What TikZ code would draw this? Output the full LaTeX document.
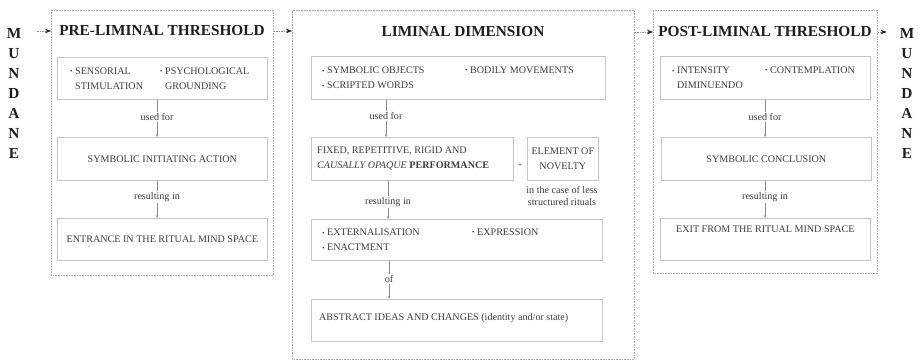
\documentclass[tikz,border=0pt]{standalone}
\usepackage{fontspec}
\setmainfont{Liberation Serif}
\usetikzlibrary{positioning,arrows.meta}

\definecolor{zonegray}{HTML}{A8A8A8}
\definecolor{boxgray}{HTML}{C4C4C4}
\definecolor{inkgray}{HTML}{3C3C3C}
\definecolor{inkdark}{HTML}{1E1E1E}
\definecolor{linkgray}{HTML}{8A8A8A}

\newcommand{\bul}{\raisebox{0.6pt}{\fontsize{7}{7}\selectfont\textbullet}}

\begin{document}
\begin{tikzpicture}[
    x=1pt, y=-1pt,
    font=\fontsize{10.1}{15}\selectfont,
    zone/.style={
        draw=zonegray,
        line width=0.6pt,
        dash pattern=on 0.8pt off 0.8pt,
        anchor=north west,
        inner sep=0pt
    },
    stepbox/.style={
        draw=boxgray,
        line width=0.7pt,
        anchor=north west,
        inner sep=0pt,
        align=center,
        text=inkgray
    },
    item/.style={anchor=west, inner sep=0pt, align=left, text=inkgray},
    lbl/.style={inner sep=1.5pt, text=inkgray},
    heading/.style={
        font=\fontsize{15.3}{18}\selectfont\bfseries,
        text=inkdark,
        inner sep=0pt
    },
    mund/.style={
        font=\fontsize{15.3}{20}\selectfont\bfseries,
        text=inkdark,
        align=center,
        inner sep=0pt
    },
    tie/.style={draw=linkgray, line width=0.5pt},
    link/.style={draw=linkgray, line width=0.5pt, -{Stealth[length=3pt,width=2.4pt]}},
    flow/.style={
        draw=linkgray,
        line width=0.6pt,
        dash pattern=on 1.5pt off 1pt,
        -{Stealth[length=6pt,width=4.5pt,color=inkdark]}
    }
]
    \useasboundingbox (0,0) rectangle (918,361);

    % mundane, left and right
    \node[mund] (mundL) at (14,93) {M\\U\\N\\D\\A\\N\\E};
    \node[mund] (mundR) at (907,93) {M\\U\\N\\D\\A\\N\\E};

    % pre-liminal threshold
    \node[zone, minimum width=222pt, minimum height=265pt] (lout) at (51,10) {};
    \node[heading] (ltitle) at (162,31) {PRE-LIMINAL THRESHOLD};
    \node[stepbox, minimum width=210pt, minimum height=42pt] (l1) at (57,57) {};
    \node[item] (l1a) at (70,78.5) {\bul\ SENSORIAL\\\phantom{\bul\ }STIMULATION};
    \node[item] (l1b) at (160,78.5) {\bul\ PSYCHOLOGICAL\\\phantom{\bul\ }GROUNDING};
    \node[lbl] (lu1) at (157,117) {used for};
    \node[stepbox, minimum width=210pt, minimum height=43pt] (l2) at (57,137) {SYMBOLIC INITIATING ACTION};
    \node[lbl] (lu2) at (157,197) {resulting in};
    \node[stepbox, minimum width=210pt, minimum height=42pt] (l3) at (57,218) {ENTRANCE IN THE RITUAL MIND SPACE};

    % liminal dimension
    \node[zone, minimum width=342pt, minimum height=349pt] (mout) at (292,10) {};
    \node[heading] (mtitle) at (463,32) {LIMINAL DIMENSION};
    \node[stepbox, minimum width=294pt, minimum height=43pt] (m1) at (311,56) {};
    \node[item] (m1a) at (322,78) {\bul\ SYMBOLIC OBJECTS\\\bul\ SCRIPTED WORDS};
    \node[item] (m1b) at (465,70) {\bul\ BODILY MOVEMENTS};
    \node[lbl] (mu1) at (386,116) {used for};
    \node[stepbox, minimum width=202pt, minimum height=43pt] (m2) at (311,137) {};
    \node[item] (m2a) at (317,158) {FIXED, REPETITIVE, RIGID AND\\\textit{CAUSALLY OPAQUE} \textbf{PERFORMANCE}};
    \node[lbl, font=\fontsize{8}{8}\selectfont] (plus) at (520,165) {+};
    \node[stepbox, minimum width=71pt, minimum height=43pt] (nov) at (527,137) {ELEMENT OF\\NOVELTY};
    \node[lbl, align=center, font=\fontsize{10.1}{12}\selectfont] (novnote) at (562,196) {in the case of less\\structured rituals};
    \node[lbl] (mu2) at (388,202) {resulting in};
    \node[stepbox, minimum width=291pt, minimum height=41pt] (m3) at (311,219) {};
    \node[item] (m3a) at (322,240) {\bul\ EXTERNALISATION\\\bul\ ENACTMENT};
    \node[item] (m3b) at (472,232) {\bul\ EXPRESSION};
    \node[lbl] (mu3) at (389,279) {of};
    \node[stepbox, minimum width=291pt, minimum height=42pt] (m4) at (311,299) {};
    \node[item] (m4a) at (319,318) {ABSTRACT IDEAS AND CHANGES (identity and/or state)};

    % post-liminal threshold
    \node[zone, minimum width=224pt, minimum height=263pt] (rout) at (653,10) {};
    \node[heading] (rtitle) at (765,32) {POST-LIMINAL THRESHOLD};
    \node[stepbox, minimum width=210pt, minimum height=43pt] (r1) at (660,56) {};
    \node[item] (r1a) at (672,78) {\bul\ INTENSITY\\\phantom{\bul\ }DIMINUENDO};
    \node[item] (r1b) at (765,70) {\bul\ CONTEMPLATION};
    \node[lbl] (ru1) at (765,117) {used for};
    \node[stepbox, minimum width=210pt, minimum height=43pt] (r2) at (661,137) {SYMBOLIC CONCLUSION};
    \node[lbl] (ru2) at (765,197) {resulting in};
    \node[stepbox, minimum width=210pt, minimum height=42pt] (r3) at (660,218) {EXIT FROM THE RITUAL MIND SPACE\\\strut};

    % links inside the stages
    \draw[tie] (l1.south -| lu1) -- (lu1.north);
    \draw[link] (lu1.south) -- (l2.north -| lu1);
    \draw[tie] (l2.south -| lu2) -- (lu2.north);
    \draw[link] (lu2.south) -- (l3.north -| lu2);
    \draw[tie] (m1.south -| mu1) -- (mu1.north);
    \draw[link] (mu1.south) -- (m2.north -| mu1);
    \draw[tie] (m2.south -| mu2) -- (mu2.north);
    \draw[link] (mu2.south) -- (m3.north -| mu2);
    \draw[tie] (m3.south -| mu3) -- (mu3.north);
    \draw[link] (mu3.south) -- (m4.north -| mu3);
    \draw[tie] (r1.south -| ru1) -- (ru1.north);
    \draw[link] (ru1.south) -- (r2.north -| ru1);
    \draw[tie] (r2.south -| ru2) -- (ru2.north);
    \draw[link] (ru2.south) -- (r3.north -| ru2);

    % flow between the stages
    \draw[flow, shorten <=16pt] (mundL.east |- ltitle) -- (lout.west |- ltitle);
    \draw[flow] (lout.east |- ltitle) -- (mout.west |- ltitle);
    \draw[flow] (mout.east |- mtitle) -- (rout.west |- mtitle);
    \draw[flow, shorten >=13pt] (rout.east |- rtitle) -- (mundR.west |- rtitle);

\end{tikzpicture}
\end{document}
